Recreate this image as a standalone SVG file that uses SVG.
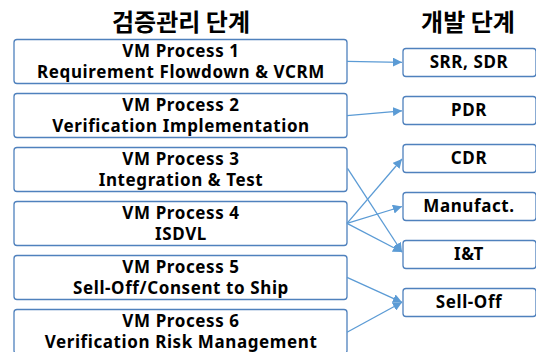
<svg xmlns="http://www.w3.org/2000/svg" width="536" height="352" viewBox="0 0 536 352">
<defs>
<style>
.box{fill:#fff;stroke:#4f81bd;stroke-width:1.3}
.t{font-family:"Noto Sans","Noto Sans CJK KR",sans-serif;font-weight:bold;font-size:17px;letter-spacing:0.6px;fill:#000;text-anchor:middle}
.h{font-family:"Noto Sans CJK KR","Noto Sans",sans-serif;font-weight:bold;font-size:24px;fill:#000;text-anchor:middle}
.c{stroke:#5b9bd5;stroke-width:1.3;fill:none;marker-end:url(#ah)}
</style>
<marker id="ah" viewBox="0 0 10 10" refX="10" refY="5" markerWidth="7" markerHeight="7" orient="auto" markerUnits="strokeWidth">
<path d="M0,0 L10,5 L0,10 z" fill="#5b9bd5"/>
</marker>
</defs>
<rect width="536" height="352" fill="#fff"/>
<text class="h" x="181" y="31">검증관리 단계</text>
<text class="h" x="468" y="31">개발 단계</text>
<g id="p1"><rect class="box" x="14" y="39.5" width="333" height="44" rx="3"/><text class="t" x="181" y="57">VM Process 1</text><text class="t" x="181" y="78">Requirement Flowdown &amp; VCRM</text></g>
<g id="p2"><rect class="box" x="14" y="93.5" width="333" height="44" rx="3"/><text class="t" x="181" y="111">VM Process 2</text><text class="t" x="181" y="132">Verification Implementation</text></g>
<g id="p3"><rect class="box" x="14" y="147.5" width="333" height="44" rx="3"/><text class="t" x="181" y="165">VM Process 3</text><text class="t" x="181" y="186">Integration &amp; Test</text></g>
<g id="p4"><rect class="box" x="14" y="201.5" width="333" height="44" rx="3"/><text class="t" x="181" y="219">VM Process 4</text><text class="t" x="181" y="240">ISDVL</text></g>
<g id="p5"><rect class="box" x="14" y="255.5" width="333" height="44" rx="3"/><text class="t" x="181" y="273">VM Process 5</text><text class="t" x="181" y="294">Sell-Off/Consent to Ship</text></g>
<g id="p6"><rect class="box" x="14" y="309.5" width="333" height="44" rx="3"/><text class="t" x="181" y="327">VM Process 6</text><text class="t" x="181" y="348">Verification Risk Management</text></g>
<g id="d1"><rect class="box" x="403" y="48.5" width="133" height="28" rx="3"/><text class="t" x="469" y="68">SRR, SDR</text></g>
<g id="d2"><rect class="box" x="403" y="96.5" width="133" height="28" rx="3"/><text class="t" x="469" y="116">PDR</text></g>
<g id="d3"><rect class="box" x="403" y="144.5" width="133" height="28" rx="3"/><text class="t" x="469" y="164">CDR</text></g>
<g id="d4"><rect class="box" x="403" y="192.5" width="133" height="28" rx="3"/><text class="t" x="469" y="212">Manufact.</text></g>
<g id="d5"><rect class="box" x="403" y="240.5" width="133" height="28" rx="3"/><text class="t" x="469" y="260">I&amp;T</text></g>
<g id="d6"><rect class="box" x="403" y="288.5" width="133" height="28" rx="3"/><text class="t" x="469" y="308">Sell-Off</text></g>
<g id="connectors">
<line class="c" x1="347" y1="61.3" x2="402" y2="62.3"/>
<line class="c" x1="347" y1="115.7" x2="402" y2="110.8"/>
<line class="c" x1="347.5" y1="168.3" x2="402" y2="252"/>
<line class="c" x1="347" y1="223.3" x2="402" y2="159"/>
<line class="c" x1="347" y1="223.3" x2="402" y2="206.5"/>
<line class="c" x1="347" y1="223.3" x2="402" y2="252"/>
<line class="c" x1="347" y1="277.3" x2="402" y2="302.3"/>
<line class="c" x1="347" y1="332.3" x2="402" y2="302.3"/>
</g>
</svg>
